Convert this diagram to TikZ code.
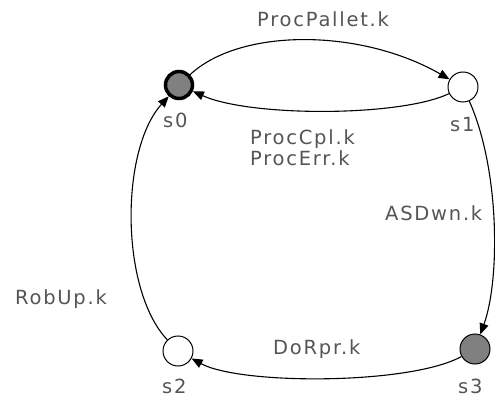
\documentclass[tikz,border=0pt]{standalone}
\usepackage{fontspec}
\usetikzlibrary{arrows.meta}
\newfontfamily\lblfont[LetterSpace=9]{DejaVu Sans}
\definecolor{txtgray}{HTML}{555555}
\definecolor{stfill}{HTML}{808080}
\begin{document}
\begin{tikzpicture}[x=1pt,y=-1pt,
  state/.style={circle, draw=black, line width=1pt, fill=white, minimum size=30pt, inner sep=0pt},
  initstate/.style={state, line width=3.5pt, fill=stfill, minimum size=27pt},
  markstate/.style={state, fill=stfill},
  lbl/.style={font=\lblfont\fontsize{19.5}{22}\selectfont, text=txtgray, inner sep=0pt, anchor=base west},
  edge/.style={draw=black, line width=1.1pt, -{Triangle[length=11pt,width=9pt]}}]
\useasboundingbox (0,0) rectangle (495,398);

% states
\node[initstate] (s0) at (179,85) {};
\node[state]     (s1) at (463,87) {};
\node[state]     (s2) at (178,351) {};
\node[markstate] (s3) at (475,349) {};

% state names
\node[lbl] (n0) at (163,128) {s0};
\node[lbl] (n1) at (450,132) {s1};
\node[lbl] (n2) at (162,393) {s2};
\node[lbl] (n3) at (458,393) {s3};

% transitions
\draw[edge] (s0) .. controls (240,28) and (360,28) .. (s1);
\draw[edge] (s1) .. controls (400,117) and (250,117) .. (s0);
\draw[edge] (s1) .. controls (500,170) and (500,280) .. (s3);
\draw[edge] (s3) .. controls (410,385) and (240,385) .. (s2);
\draw[edge] (s2) .. controls (120,290) and (120,150) .. (s0);

% event labels
\node[lbl] (e01)  at (257,27)  {ProcPallet.k};
\node[lbl] (e10a) at (250,145) {ProcCpl.k};
\node[lbl] (e10b) at (250,166) {ProcErr.k};
\node[lbl] (e13)  at (385,220) {ASDwn.k};
\node[lbl] (e32)  at (273,354) {DoRpr.k};
\node[lbl] (e20)  at (15,304)  {RobUp.k};
\end{tikzpicture}
\end{document}
